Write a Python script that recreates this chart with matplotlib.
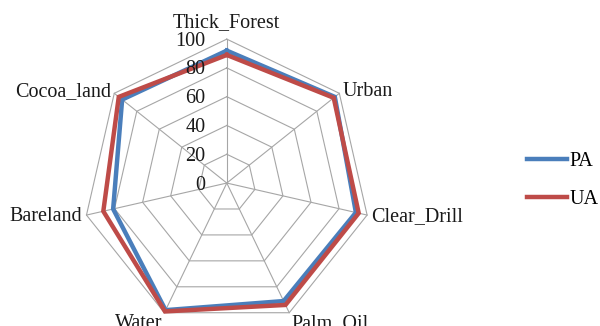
import numpy as np
import matplotlib
matplotlib.use("Agg")
import matplotlib.pyplot as plt
from matplotlib.transforms import offset_copy

categories = ["Thick_Forest", "Urban", "Clear_Drill", "Palm_Oil", "Water", "Bareland", "Cocoa_land"]
pa_values = [92, 96, 92, 91, 98, 81, 93]
ua_values = [89, 95, 94, 94, 99, 88, 96]
r_ticks = [0, 20, 40, 60, 80, 100]
series_names = ["PA", "UA"]

plt.rcParams['font.family'] = ['Liberation Serif', 'DejaVu Serif']
FS = 14.5

fig = plt.figure(figsize=(6, 3.26), dpi=100)
ax = fig.add_axes([0.138, -0.003, 0.48, 0.883], projection='polar')
ax.set_theta_zero_location('N')
ax.set_theta_direction(-1)
ax.set_ylim(0, 100)
ax.grid(False)
ax.spines['polar'].set_visible(False)
ax.set_xticks([])
ax.set_yticks([])
ax.patch.set_alpha(0)

n = len(categories)
angles = np.linspace(0, 2 * np.pi, n, endpoint=False)
closed = np.concatenate([angles, angles[:1]])

gridc = '#A6A6A6'
for r in r_ticks[1:]:
    ax.plot(closed, [r] * (n + 1), color=gridc, lw=0.8, zorder=1, clip_on=False)
for a in angles:
    ax.plot([a, a], [0, 100], color=gridc, lw=0.8, zorder=1, clip_on=False)

colors = ['#4A7EBB', '#BE4B48']
for name, vals, c in zip(series_names, [pa_values, ua_values], colors):
    v = list(vals) + [vals[0]]
    ax.plot(closed, v, color=c, lw=3.2, label=name, zorder=3, clip_on=False,
            solid_joinstyle='miter')

# radial tick labels
tr = offset_copy(ax.transData, fig=fig, x=-15.5, y=-1.5, units='points')
for r in r_ticks:
    ax.text(0, r, str(r), transform=tr, ha='right', va='center', fontsize=FS, color='#1a1a1a')

# category labels
for a, lab in zip(angles, categories):
    s, c = np.sin(a), np.cos(a)
    if abs(s) < 0.05:
        ha = 'center'
    elif s > 0:
        ha = 'left'
    else:
        ha = 'right'
    if c > 0.9:
        va = 'bottom'
        dy = 5
    elif c < -0.5:
        va = 'top'
        dy = -1
    else:
        va = 'center'
        dy = 1 if c > 0 else -1
    dx = 3 * s
    t = offset_copy(ax.transData, fig=fig, x=dx, y=dy, units='points')
    ax.text(a, 100, lab, transform=t, ha=ha, va=va, fontsize=FS, color='#1a1a1a', clip_on=False)

fig.legend(loc='center left', bbox_to_anchor=(0.865, 0.446), frameon=False,
           fontsize=FS, handlelength=2.0, handletextpad=0.1, labelspacing=0.95,
           borderaxespad=0)

fig.savefig('out.png', dpi=100)
